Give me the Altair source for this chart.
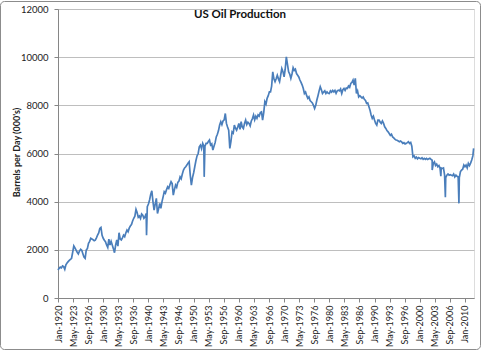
import altair as alt
import pandas as pd

# ---- data (quarterly readings Jan/Apr/Jul/Oct, thousand barrels per day) ----
v1920s = [1160, 1230, 1280, 1250, 1330, 1300, 1190, 1380, 1450, 1510, 1560, 1600,
          1650, 1900, 2160, 2080, 1990, 1900, 1830, 1950, 2020, 1980, 1840, 1700,
          1650, 1990, 2050, 2270, 2350, 2480, 2450, 2420, 2380, 2400, 2500, 2610,
          2700, 2890, 2930, 2600]
v1930s = [2480, 2400, 2340, 2200, 2100, 2440, 2200, 2350, 2200, 2050, 1880, 2200,
          2410, 2150, 2710, 2450, 2410, 2500, 2610, 2550, 2700, 2820, 2750, 2900,
          2990, 3050, 3200, 3310, 3400, 3680, 3550, 3350, 3400, 3300, 3490, 3440,
          3310, 3370, 3510, 3790]
v1940s = [3900, 4070, 4300, 4450, 4000, 3650, 3900, 4140, 3510, 3700, 3930, 3720,
          4000, 4200, 4410, 4350, 4500, 4620, 4550, 4700, 4830, 4750, 4270, 4500,
          4690, 4600, 4800, 4850, 5030, 4950, 5150, 5310, 5400, 5450, 5520, 5600,
          5660, 5100, 4690, 5000]
v1950s = [5200, 5450, 5700, 5900, 6000, 6280, 6350, 6200, 6420, 6300, 6300, 6420,
          6420, 6500, 6560, 6350, 6400, 6140, 6300, 6450, 6690, 6800, 6950, 7180,
          7320, 7200, 7350, 7400, 7660, 7250, 7100, 6970, 6210, 6500, 6900, 6850,
          7180, 7050, 6970, 7100]
v1960s = [7250, 7000, 7320, 7100, 7040, 7250, 7390, 7200, 7300, 7250, 7150, 7350,
          7450, 7600, 7400, 7550, 7460, 7600, 7550, 7700, 7730, 7390, 7700, 8150,
          8050, 8290, 8400, 8560, 8560, 8800, 9390, 9100, 8980, 9100, 9250, 9100,
          8980, 9250, 9530, 9400]
v1970s = [9180, 9500, 10010, 9700, 9390, 9300, 9120, 9300, 9560, 9450, 9500, 9320,
          9250, 9180, 9050, 8950, 8840, 8700, 8490, 8550, 8400, 8290, 8350, 8200,
          8150, 8100, 8000, 7870, 8000, 8220, 8400, 8600, 8770, 8650, 8490, 8550,
          8600, 8490, 8560, 8500]
v1980s = [8490, 8600, 8550, 8620, 8560, 8620, 8500, 8600, 8630, 8600, 8680, 8490,
          8650, 8700, 8620, 8720, 8700, 8800, 8750, 8910, 8950, 9050, 8840, 9120,
          8490, 8600, 8350, 8400, 8350, 8300, 8350, 8250, 8200, 8080, 8100, 7950,
          7800, 7600, 7460, 7550]
v1990s = [7390, 7250, 7180, 7390, 7390, 7300, 7250, 7350, 7250, 7110, 7040, 6950,
          6900, 6830, 6750, 6800, 6690, 6650, 6600, 6560, 6550, 6520, 6490, 6520,
          6480, 6420, 6450, 6400, 6420, 6450, 6490, 6420, 6460, 6300, 5860, 5900,
          5800, 5850, 5780, 5830]
v2000s = [5800, 5780, 5820, 5760, 5800, 5760, 5800, 5750, 5780, 5800, 5760, 5720,
          5590, 5650, 5500, 5560, 5450, 5500, 5380, 5400, 5380, 5400, 5100, 5000,
          5100, 5150, 5100, 5120, 5100, 5080, 5150, 5030, 5100, 5050, 5030, 5000,
          5250, 5310, 5350, 5520]
v2010s = [5450, 5520, 5400, 5590, 5500, 5600, 5730, 5900]

# single-month readings (sharp dips and the final month)
spike_months = ["1939-08", "1952-05", "2002-10", "2004-09", "2005-09", "2008-09", "2011-12"]
spike_values = [2610, 5030, 5310, 5060, 4180, 3930, 6210]

tick_labels = ["Jan-1920", "May-1923", "Sep-1926", "Jan-1930", "May-1933", "Sep-1936",
               "Jan-1940", "May-1943", "Sep-1946", "Jan-1950", "May-1953", "Sep-1956",
               "Jan-1960", "May-1963", "Sep-1966", "Jan-1970", "May-1973", "Sep-1976",
               "Jan-1980", "May-1983", "Sep-1986", "Jan-1990", "May-1993", "Sep-1996",
               "Jan-2000", "May-2003", "Sep-2006", "Jan-2010"]
y_ticks = [0, 2000, 4000, 6000, 8000, 10000, 12000]
title_text = "US Oil Production"

# ---- build table ----
quarterly = v1920s + v1930s + v1940s + v1950s + v1960s + v1970s + v1980s + v1990s + v2000s + v2010s
q_dates = pd.date_range("1920-01-01", periods=len(quarterly), freq="3MS")
df = pd.concat([
    pd.DataFrame({"date": q_dates, "value": quarterly}),
    pd.DataFrame({"date": pd.to_datetime(spike_months), "value": spike_values}),
]).sort_values("date").reset_index(drop=True)

tick_dates = [pd.to_datetime(t, format="%b-%Y") for t in tick_labels]
tick_values = [alt.DateTime(year=d.year, month=d.month, date=1) for d in tick_dates]

FONT = "Lato"
AXIS_COL = "#868686"

line = alt.Chart(df).mark_line(color="#4A7EBB", strokeWidth=1.7).encode(
    x=alt.X("date:T",
            scale=alt.Scale(domain=[alt.DateTime(year=1920, month=1, date=1),
                                    alt.DateTime(year=2012, month=1, date=1)]),
            axis=alt.Axis(values=tick_values, format="%b-%Y", labelAngle=-90,
                          grid=False, title=None, tickSize=4, labelPadding=3,
                          labelFontSize=9, labelFont=FONT, labelColor="#222",
                          domainColor=AXIS_COL, tickColor=AXIS_COL,
                          labelOverlap=False, labelBound=False, labelFlush=False)),
    y=alt.Y("value:Q",
            scale=alt.Scale(domain=[0, 12000], nice=False),
            axis=alt.Axis(values=y_ticks, format="d", title="Barrels per Day (000's)",
                          titleFont=FONT, titleFontSize=9, titleFontWeight="bold",
                          titleColor="#222", titleX=-42, titleY=143,
                          titleAngle=270, titleAlign="center", titleBaseline="middle",
                          labelFont=FONT, labelFontSize=9.5, labelColor="#222",
                          tickSize=4, labelPadding=6, gridColor="#BEBEBE",
                          domainColor=AXIS_COL, tickColor=AXIS_COL,
                          labelFlush=False, labelBound=False)),
)

frame = alt.Chart(pd.DataFrame({"k": [0]})).mark_rect(
    fill=None, stroke="#8C8C8C", strokeWidth=1, cornerRadius=4
).encode(x=alt.value(-57.5), x2=alt.value(422.5), y=alt.value(-7.5), y2=alt.value(340.5))

title = alt.Chart(pd.DataFrame({"t": [title_text]})).mark_text(
    font=FONT, fontSize=11.5, fontWeight="bold", color="#111",
    align="center", baseline="alphabetic"
).encode(text="t:N", x=alt.value(182), y=alt.value(9))

chart = alt.layer(frame, line, title).properties(
    width=416, height=289,
    autosize=alt.AutoSizeParams(type="none"),
    padding={"left": 58, "top": 9, "right": 10, "bottom": 54},
).configure_view(stroke=None).configure(background="white")

chart.save("out.html", embed_options={"renderer": "svg", "actions": False})
